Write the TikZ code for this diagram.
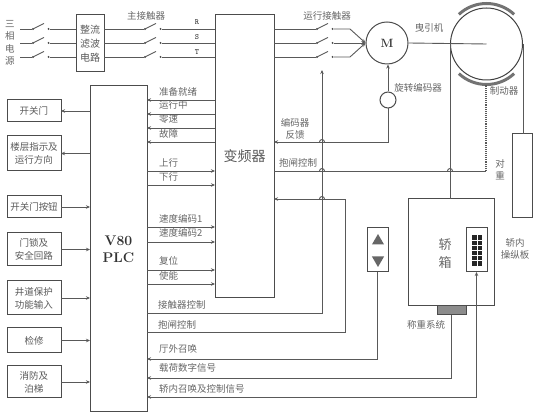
\documentclass[tikz,border=0pt]{standalone}
\usepackage{fontspec}
\newfontfamily\cjk{Noto Sans CJK SC}
\usepackage{tikz}
\usetikzlibrary{shapes.geometric, arrows.meta, positioning, calc}
\newcommand{\switchat}[3]{%
  \node[contact] (#1-l) at (#2,#3) {};
  \node[contact, right=13pt of #1-l] (#1-r) {};
  \draw[wire] (#1-l.center) -- ++(11pt,5.5pt);
}
\newcommand{\hopat}[1]{\draw[wire] ([xshift=-2.5pt]#1) arc[start angle=180, end angle=0, radius=2.5pt];}

\begin{document}
\begin{tikzpicture}[
  x=1pt, y=-1pt,
  node distance=14pt,
  wire/.style={draw=black!65, line width=0.9pt},
  arrow/.style={wire, -{Stealth[length=4pt, width=3.5pt]}},
  box/.style={rectangle, draw=black!70, line width=1pt, inner sep=0pt, outer sep=0pt, align=center, text=black!65, font=\cjk\fontsize{9.5}{13}\selectfont},
  sidebox/.style={box, minimum width=54pt},
  lab/.style={inner sep=0pt, align=center, text=black!60, font=\cjk\fontsize{9.5}{12}\selectfont},
  siglab/.style={lab, anchor=west},
  contact/.style={circle, fill=black!70, inner sep=0pt, minimum size=2.2pt},
  shoe/.style={draw=black!55, line width=3pt}
]
  \useasboundingbox (0,0) rectangle (539,419);

  % power side
  \node[lab, font=\cjk\fontsize{9.5}{12.5}\selectfont] (MAINS) at (10,43) {三\\相\\电\\源};
  \node[box, minimum width=28pt, minimum height=57pt, font=\cjk\fontsize{10}{14}\selectfont] (RECT) at (90,43.5) {整流\\滤波\\电路};
  \node[box, minimum width=59pt, minimum height=283pt, font=\cjk\fontsize{14}{16}\selectfont] (INV) at (244.5,156.5) {变频器};
  \node[box, minimum width=57pt, minimum height=326pt, text=black!80, font=\bfseries\fontsize{14}{17}\selectfont] (PLC) at (118.5,249) {V80\\PLC};

  \switchat{qa}{33}{29}
  \switchat{qb}{33}{43}
  \switchat{qc}{33}{57}
  \coordinate (La) at (20,29);
  \coordinate (Lb) at (20,43);
  \coordinate (Lc) at (20,57);
  \draw[wire] (La) -- (qa-l) (Lb) -- (qb-l) (Lc) -- (qc-l);
  \draw[wire] (qa-r) -- (qa-r -| RECT.west) (qb-r) -- (qb-r -| RECT.west) (qc-r) -- (qc-r -| RECT.west);

  \switchat{ka}{145}{29}
  \switchat{kb}{145}{43}
  \switchat{kc}{145}{57}
  \draw[wire] (ka-l -| RECT.east) -- (ka-l) (kb-l -| RECT.east) -- (kb-l) (kc-l -| RECT.east) -- (kc-l);
  \draw[wire] (ka-r) -- (ka-r -| INV.west) (kb-r) -- (kb-r -| INV.west) (kc-r) -- (kc-r -| INV.west);
  \node[lab] (KMlab) at (146,16) {主接触器};
  \node[lab, font=\ttfamily\bfseries\fontsize{8}{9}\selectfont, text=black!75] (Rlab) at (197,22) {R};
  \node[lab, font=\ttfamily\bfseries\fontsize{8}{9}\selectfont, text=black!75] (Slab) at (197,37) {S};
  \node[lab, font=\ttfamily\bfseries\fontsize{8}{9}\selectfont, text=black!75] (Tlab) at (197,52) {T};

  % motor and machine
  \node[circle, draw=black!70, line width=1pt, minimum size=42pt, inner sep=0pt, font=\bfseries\fontsize{12}{14}\selectfont, text=black!80] (MOT) at (387,43) {M};
  \node[circle, draw=black!70, line width=1pt, minimum size=16pt, inner sep=0pt] (ENC) at (388,100) {};
  \node[circle, draw=black!75, line width=1pt, minimum size=72pt, inner sep=0pt] (WHEEL) at (486.5,44) {};
  \switchat{ra}{317}{29}
  \switchat{rb}{317}{43}
  \switchat{rc}{317}{57}
  \coordinate (bendA) at (350,29);
  \coordinate (bendC) at (350,57);
  \draw[wire] (ra-l -| INV.east) -- (ra-l) (rb-l -| INV.east) -- (rb-l) (rc-l -| INV.east) -- (rc-l);
  \draw[arrow] (ra-r) -- (bendA) -- (MOT.west);
  \draw[arrow] (rb-r) -- (MOT.west);
  \draw[arrow] (rc-r) -- (bendC) -- (MOT.west);
  \draw[wire] (MOT.east) -- (WHEEL.center);
  \draw[shoe] ([shift={(47:40.5pt)}]WHEEL.center) arc[start angle=47, end angle=133, radius=40.5pt];
  \draw[shoe] ([shift={(-47:40.5pt)}]WHEEL.center) arc[start angle=-47, end angle=-133, radius=40.5pt];
  \node[lab] (RUNlab) at (327,16) {运行接触器};
  \node[lab] (TRAClab) at (429,28) {曳引机};
  \node[lab] (BRKlab) at (504,91) {制动器};
  \node[lab] (ENClab) at (418,88) {旋转编码器};
  \node[lab] (FBlab) at (295,129) {编码器\\反馈};
  \node[lab] (HOLDlab) at (298,163) {抱闸控制};
  \node[lab] (CWlab) at (500,170) {对\\重};

  % car and counterweight
  \node[box, minimum width=86pt, minimum height=107pt] (CAR) at (451,252.5) {};
  \node[box, minimum width=20pt, minimum height=84pt] (CW) at (522,176) {};
  \node[box, fill=black!45, minimum width=29pt, minimum height=9pt] (LOAD) at (451.5,310.5) {};
  \node[box, minimum width=21pt, minimum height=44pt] (HALL) at (377.5,250) {};
  \node[box, minimum width=21pt, minimum height=44pt] (COP) at (476.5,250) {};
  \node[rectangle, fill=black!85, minimum width=10pt, minimum height=31pt, inner sep=0pt] (KEYS) at (477,250.5) {};
  \draw[white, line width=0.6pt] (KEYS.north) -- (KEYS.south)
    ([yshift=-5.2pt]KEYS.north west) -- ([yshift=-5.2pt]KEYS.north east)
    ([yshift=-10.3pt]KEYS.north west) -- ([yshift=-10.3pt]KEYS.north east)
    ([yshift=-15.5pt]KEYS.north west) -- ([yshift=-15.5pt]KEYS.north east)
    ([yshift=-20.7pt]KEYS.north west) -- ([yshift=-20.7pt]KEYS.north east)
    ([yshift=-25.8pt]KEYS.north west) -- ([yshift=-25.8pt]KEYS.north east);
  \node[regular polygon, regular polygon sides=3, fill=black!60, minimum size=14pt, inner sep=0pt] (UPKEY) at (378,241) {};
  \node[regular polygon, regular polygon sides=3, shape border rotate=180, fill=black!60, minimum size=14pt, inner sep=0pt] (DNKEY) at (378,260) {};
  \node[lab, font=\cjk\fontsize{13}{18}\selectfont] (CARlab) at (445,254) {轿\\箱};
  \node[lab] (PANELlab) at (515,249) {轿内\\操纵板};
  \node[lab] (LOADlab) at (426,325) {称重系统};
  \draw[wire] (WHEEL.west) -- (WHEEL.west |- CAR.north);
  \draw[wire] (WHEEL.east) -- (WHEEL.east |- CW.north);

  % left column
  \node[sidebox, minimum height=22pt] (DOOR) at (34,111) {开关门};
  \node[sidebox, minimum height=35pt, below=14pt of DOOR] (FLOOR) {楼层指示及\\运行方向};
  \node[sidebox, minimum height=22pt, below=25pt of FLOOR] (BTN) {开关门按钮};
  \node[sidebox, minimum height=33pt, below=15pt of BTN] (LOCK) {门锁及\\安全回路};
  \node[sidebox, minimum height=34pt, below=15pt of LOCK] (SHAFT) {井道保护\\功能输入};
  \node[sidebox, minimum height=25pt, below=13pt of SHAFT] (INSP) {检修};
  \node[sidebox, minimum height=32pt, below=13pt of INSP] (FIRE) {消防及\\泊梯};
  \draw[arrow] (DOOR.east -| PLC.west) -- (DOOR.east);
  \draw[arrow] (FLOOR.east -| PLC.west) -- (FLOOR.east);
  \draw[arrow] (BTN.east) -- (BTN.east -| PLC.west);
  \draw[arrow] (LOCK.east) -- (LOCK.east -| PLC.west);
  \draw[arrow] (SHAFT.east) -- (SHAFT.east -| PLC.west);
  \draw[arrow] (INSP.east) -- (INSP.east -| PLC.west);
  \draw[arrow] (FIRE.east) -- (FIRE.east -| PLC.west);

  % signals between inverter and PLC
  \coordinate (sRdy) at (215,100);
  \coordinate (sRun) at (215,114);
  \coordinate (sZero) at (215,128);
  \coordinate (sFault) at (215,142);
  \coordinate (sUp) at (147,171);
  \coordinate (sDown) at (147,185);
  \coordinate (sSpdA) at (147,227);
  \coordinate (sSpdB) at (147,242);
  \coordinate (sReset) at (147,270);
  \coordinate (sEn) at (147,284);
  \draw[arrow] (sRdy) -- (sRdy -| PLC.east);
  \draw[arrow] (sRun) -- (sRun -| PLC.east);
  \draw[arrow] (sZero) -- (sZero -| PLC.east);
  \draw[arrow] (sFault) -- (sFault -| PLC.east);
  \draw[arrow] (sUp) -- (sUp -| INV.west);
  \draw[arrow] (sDown) -- (sDown -| INV.west);
  \draw[arrow] (sSpdA) -- (sSpdA -| INV.west);
  \draw[arrow] (sSpdB) -- (sSpdB -| INV.west);
  \draw[arrow] (sReset) -- (sReset -| INV.west);
  \draw[arrow] (sEn) -- (sEn -| INV.west);
  \node[siglab] (lRdy) at (159,92) {准备就绪};
  \node[siglab] (lRun) at (159,105) {运行中};
  \node[siglab] (lZero) at (159,119) {零速};
  \node[siglab] (lFault) at (159,134) {故障};
  \node[siglab] (lUp) at (159,163) {上行};
  \node[siglab] (lDown) at (159,177) {下行};
  \node[siglab] (lSpdA) at (159,219) {速度编码1};
  \node[siglab] (lSpdB) at (159,233) {速度编码2};
  \node[siglab] (lReset) at (159,261) {复位};
  \node[siglab] (lEn) at (159,276) {使能};

  % long runs around the inverter
  \coordinate (sKM) at (147,313);
  \coordinate (topKM) at (322,70);
  \coordinate (sHold) at (147,332);
  \coordinate (turnHold) at (345,199);
  \coordinate (hallEnd) at (147,359);
  \coordinate (loadEnd) at (147,378);
  \coordinate (copEnd) at (147,397);
  \coordinate (fbRow) at (274,142);
  \coordinate (brkRow) at (274,171);
  \coordinate (BRK) at (486,85);
  \coordinate (brkTurn) at (BRK |- brkRow);
  \coordinate (copTurn) at (COP.south |- copEnd);
  \draw[arrow] (sKM) -| (topKM);
  \draw[wire] (sHold) -| (turnHold);
  \draw[arrow] (turnHold) -- (turnHold -| INV.east);
  \draw[arrow] (ENC.north) -- (ENC.north |- MOT.south);
  \draw[arrow] (ENC.south) |- (fbRow);
  \draw[wire] (brkRow) -- (brkTurn);
  \draw[wire, densely dotted, line width=1.3pt] (brkTurn) -- (BRK);
  \draw[arrow] (HALL.south) |- (hallEnd);
  \draw[arrow] (LOAD.south) |- (loadEnd);
  \draw[arrow] (copTurn) -- (COP.south);
  \draw[arrow] (copTurn) -- (copEnd);
  \coordinate (hopA) at (topKM |- fbRow);
  \coordinate (hopB) at (topKM |- brkRow);
  \coordinate (hopC) at (topKM |- turnHold);
  \coordinate (hopD) at (WHEEL.west |- brkRow);
  \hopat{hopA}
  \hopat{hopB}
  \hopat{hopC}
  \hopat{hopD}
  \node[siglab] (lKM) at (158,305) {接触器控制};
  \node[siglab] (lHold) at (158,325) {抱闸控制};
  \node[siglab] (lHall) at (159,349) {厅外召唤};
  \node[siglab] (lLoad) at (159,368) {载荷数字信号};
  \node[siglab] (lCop) at (159,389) {轿内召唤及控制信号};
\end{tikzpicture}
\end{document}
